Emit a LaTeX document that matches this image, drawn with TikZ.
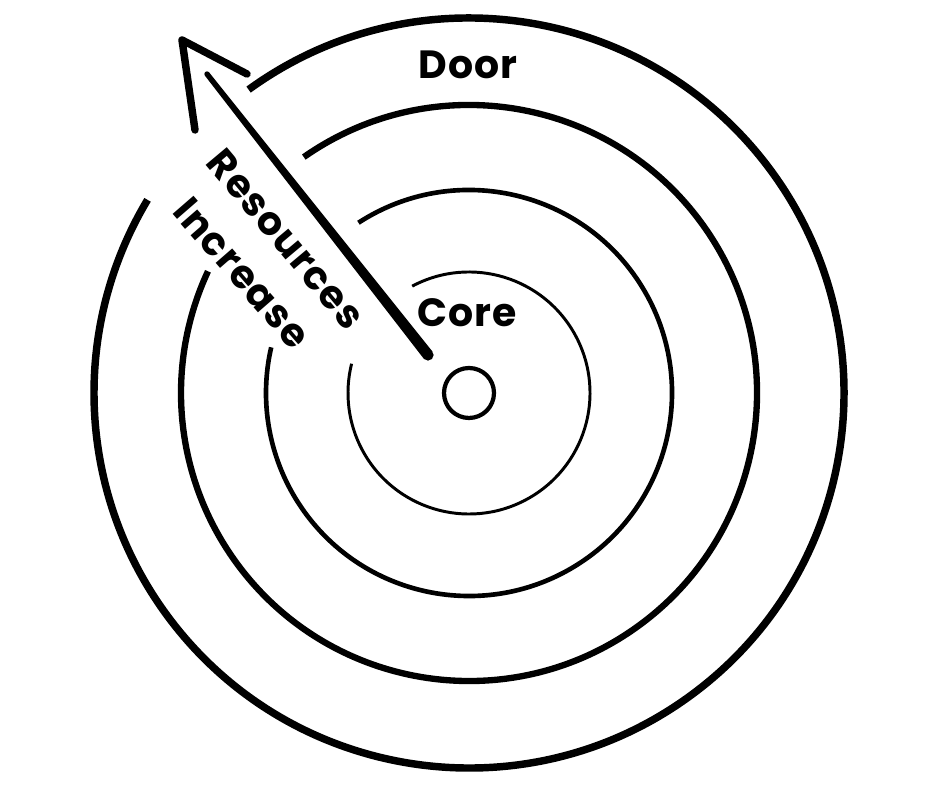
\documentclass[tikz,border=0pt]{standalone}
\usepackage{fontspec}
\setmainfont{Poppins}[LetterSpace=3]
\usepackage{tikz}
\usepackage{xcolor}
\usetikzlibrary{calc}

\begin{document}
\begin{tikzpicture}[x=0.025cm, y=0.025cm]
  \useasboundingbox (0,0) rectangle (940,788);
  \coordinate (C) at (469,395); %centre of the rings
  % rings, thin inside to thick outside
  \draw[line width=2.1pt] ($(C)+(118:121)$) arc[start angle=118, end angle=-194, radius=121];
  \draw[line width=3.3pt] ($(C)+(123:203)$) arc[start angle=123, end angle=-193, radius=203];
  \draw[line width=4.5pt] ($(C)+(125:288)$) arc[start angle=125, end angle=-205, radius=288];
  \draw[line width=5.3pt] ($(C)+(126:375)$) arc[start angle=126, end angle=-211, radius=375];
  \node[circle, draw, line width=3pt, minimum size=50*0.025cm, inner sep=0pt] (hub) at (C) {};
  % the arrow
  \coordinate (B) at (428,433);
  \coordinate (T) at (207,714);
  \fill ($(B)!4pt!90:(T)$) -- ($(T)!1.9pt!-90:(B)$) -- ($(T)!1.9pt!90:(B)$) -- ($(B)!4pt!-90:(T)$) -- cycle;
  \fill (B) circle (4pt);
  \fill (T) circle (1.9pt);
  \coordinate (wingL) at (195,658);
  \coordinate (tip) at (182,748);
  \coordinate (wingR) at (247,714);
  \draw[line width=5.3pt, line cap=round, line join=round] (wingL) -- (tip) -- (wingR);
  % labels
  \node[anchor=base, font=\bfseries\fontsize{28}{33}\selectfont, inner sep=0pt] (door) at (468,709) {Door};
  \node[anchor=base, font=\bfseries\fontsize{28}{33}\selectfont, inner sep=0pt] (core) at (467,461) {Core};
  \node[rotate=-50, font=\bfseries\fontsize{28}{33}\selectfont, inner sep=0pt] (res) at (286,549) {Resources};
  \node[rotate=-49, font=\bfseries\fontsize{28}{33}\selectfont, inner sep=0pt] (inc) at (242,515) {Increase};
\end{tikzpicture}
\end{document}
